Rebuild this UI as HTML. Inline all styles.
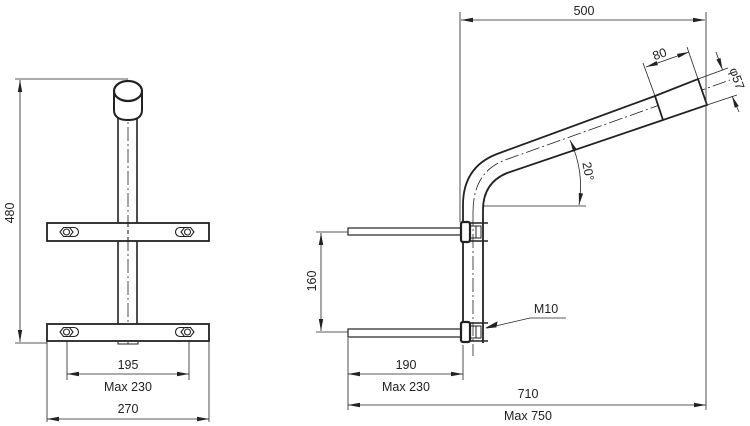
<!DOCTYPE html>
<html><head><meta charset="utf-8"><style>
html,body{margin:0;padding:0;background:#fff;}
svg{display:block;}
text{font-family:"Liberation Sans",sans-serif;font-size:12.5px;fill:#222;}
</style></head><body>
<svg width="750" height="426" viewBox="0 0 750 426" xmlns="http://www.w3.org/2000/svg">
<defs>
<marker id="a" viewBox="0 0 12 6" refX="12" refY="3" markerWidth="12" markerHeight="6" orient="auto-start-reverse" markerUnits="userSpaceOnUse"><path d="M0,0.8 L12,3 L0,5.2 z" fill="#222"/></marker>
</defs>
<g stroke="#222" fill="none">
<!-- LEFT VIEW -->
<g stroke-width="0.8">
<line x1="15" y1="79" x2="128" y2="79"/>
<line x1="15" y1="343" x2="47" y2="343"/>
<line x1="20" y1="80" x2="20" y2="342" marker-start="url(#a)" marker-end="url(#a)"/>
<line x1="67" y1="338" x2="67" y2="380"/>
<line x1="189" y1="338" x2="189" y2="380"/>
<line x1="67" y1="374" x2="189" y2="374" marker-start="url(#a)" marker-end="url(#a)"/>
<line x1="47" y1="341" x2="47" y2="422"/>
<line x1="209" y1="341" x2="209" y2="422"/>
<line x1="47" y1="419" x2="209" y2="419" marker-start="url(#a)" marker-end="url(#a)"/>
<line x1="128" y1="105" x2="128" y2="345" stroke-dasharray="14 3 2 3"/>
</g>
<g stroke-width="1.6">
<line x1="118" y1="117" x2="118" y2="324"/>
<line x1="137" y1="117" x2="137" y2="324"/>
<path d="M114,92 L114,110 Q114,120 128,120 Q142,120 142,110 L142,92" fill="#fff" stroke-width="2"/>
<ellipse cx="128" cy="91" rx="14" ry="10" fill="#fff" stroke-width="2.2"/>
<rect x="47" y="223" width="162" height="18" fill="#fff" stroke-width="1.8"/>
<rect x="47" y="324" width="162" height="17" fill="#fff" stroke-width="1.8"/>
<rect x="118" y="341" width="20" height="3" stroke-width="1"/>
</g>
<g stroke-width="1.1">
<line x1="128" y1="223" x2="128" y2="241" stroke-dasharray="4 3"/>
<g id="nut"><path d="M70,227.5 L74,227.5 A4.5,4.5 0 0 1 74,236.5 L70,236.5"/><polygon points="60,232 63.5,227.5 69.5,227.5 73,232 69.5,236.5 63.5,236.5" fill="#fff"/><circle cx="66.5" cy="232" r="3"/></g>
<use href="#nut" transform="translate(254,0) scale(-1,1)"/>
<use href="#nut" y="100"/>
<use href="#nut" transform="translate(254,100) scale(-1,1)"/>
</g>

<!-- RIGHT VIEW -->
<g stroke-width="0.8">
<line x1="460" y1="12" x2="460" y2="222"/>
<line x1="706" y1="12" x2="706" y2="410"/>
<line x1="461" y1="20" x2="705" y2="20" marker-start="url(#a)" marker-end="url(#a)"/>
<line x1="483" y1="206" x2="586" y2="206"/>
<path d="M570,140 A110,110 0 0 1 579,205" marker-start="url(#a)" marker-end="url(#a)"/>
<line x1="655" y1="96" x2="643" y2="63"/>
<line x1="698" y1="79" x2="687" y2="47"/>
<line x1="646" y1="67" x2="689" y2="52" marker-start="url(#a)" marker-end="url(#a)"/>
<line x1="698" y1="79" x2="728" y2="68"/>
<line x1="707" y1="105" x2="737" y2="95"/>
<line x1="716" y1="52" x2="722.5" y2="70" marker-end="url(#a)"/>
<line x1="739" y1="112" x2="732" y2="96" marker-end="url(#a)"/>
<line x1="473" y1="212" x2="473" y2="356" stroke-dasharray="14 3 2 3"/>
<path d="M473,212 Q473,172 505,160 L730,80" stroke-dasharray="14 3 2 3"/>
<line x1="321" y1="233" x2="321" y2="331" marker-start="url(#a)" marker-end="url(#a)"/>
<line x1="316" y1="232" x2="348" y2="232"/>
<line x1="316" y1="332" x2="348" y2="332"/>
<line x1="348" y1="338" x2="348" y2="410"/>
<line x1="463" y1="345" x2="463" y2="380"/>
<line x1="348" y1="374" x2="463" y2="374" marker-start="url(#a)" marker-end="url(#a)"/>
<line x1="348" y1="405" x2="706" y2="405" marker-start="url(#a)" marker-end="url(#a)"/>
<polyline points="566,318 530,318 487,328" />
<path d="M486,328 L497,322 L496,327 z" fill="#222"/>
</g>
<g stroke-width="1.8">
<path d="M463,343 L463,205 Q463,167 497,154 L655,96"/>
<path d="M483,343 L483,210 Q483,183 507,173 L663,120"/>
<polygon points="655,96 698,79 707,105 663,120" fill="#fff"/>
<rect x="348" y="228" width="114" height="7" fill="#fff" stroke-width="1.2"/>
<rect x="348" y="329" width="114" height="8" fill="#fff" stroke-width="1.2"/>
<g id="clamp">
<rect x="461" y="222" width="9" height="20" rx="2" fill="#fff" stroke-width="2.2"/>
<rect x="470" y="226" width="11" height="12" stroke-width="1"/>
<line x1="476" y1="226" x2="476" y2="238" stroke-width="1"/>
<line x1="470" y1="223" x2="488" y2="223" stroke-width="1.4"/>
<line x1="470" y1="241" x2="488" y2="241" stroke-width="1.4"/>
</g>
<use href="#clamp" y="100"/>
</g>
</g>
<g text-anchor="middle">
<text x="0" y="0" transform="translate(14,213) rotate(-90)">480</text>
<text x="128" y="369">195</text>
<text x="128" y="391">Max 230</text>
<text x="128" y="413">270</text>
<text x="584" y="15">500</text>
<text x="0" y="0" transform="translate(661,58) rotate(-20)">80</text>
<text x="0" y="0" transform="translate(733,80) rotate(70)">φ57</text>
<text x="0" y="0" transform="translate(584,172) rotate(80)">20°</text>
<text x="0" y="0" transform="translate(316,281) rotate(-90)">160</text>
<text x="546" y="313">M10</text>
<text x="406" y="369">190</text>
<text x="406" y="391">Max 230</text>
<text x="528" y="398">710</text>
<text x="528" y="420">Max 750</text>
</g>
</svg>
</body></html>
